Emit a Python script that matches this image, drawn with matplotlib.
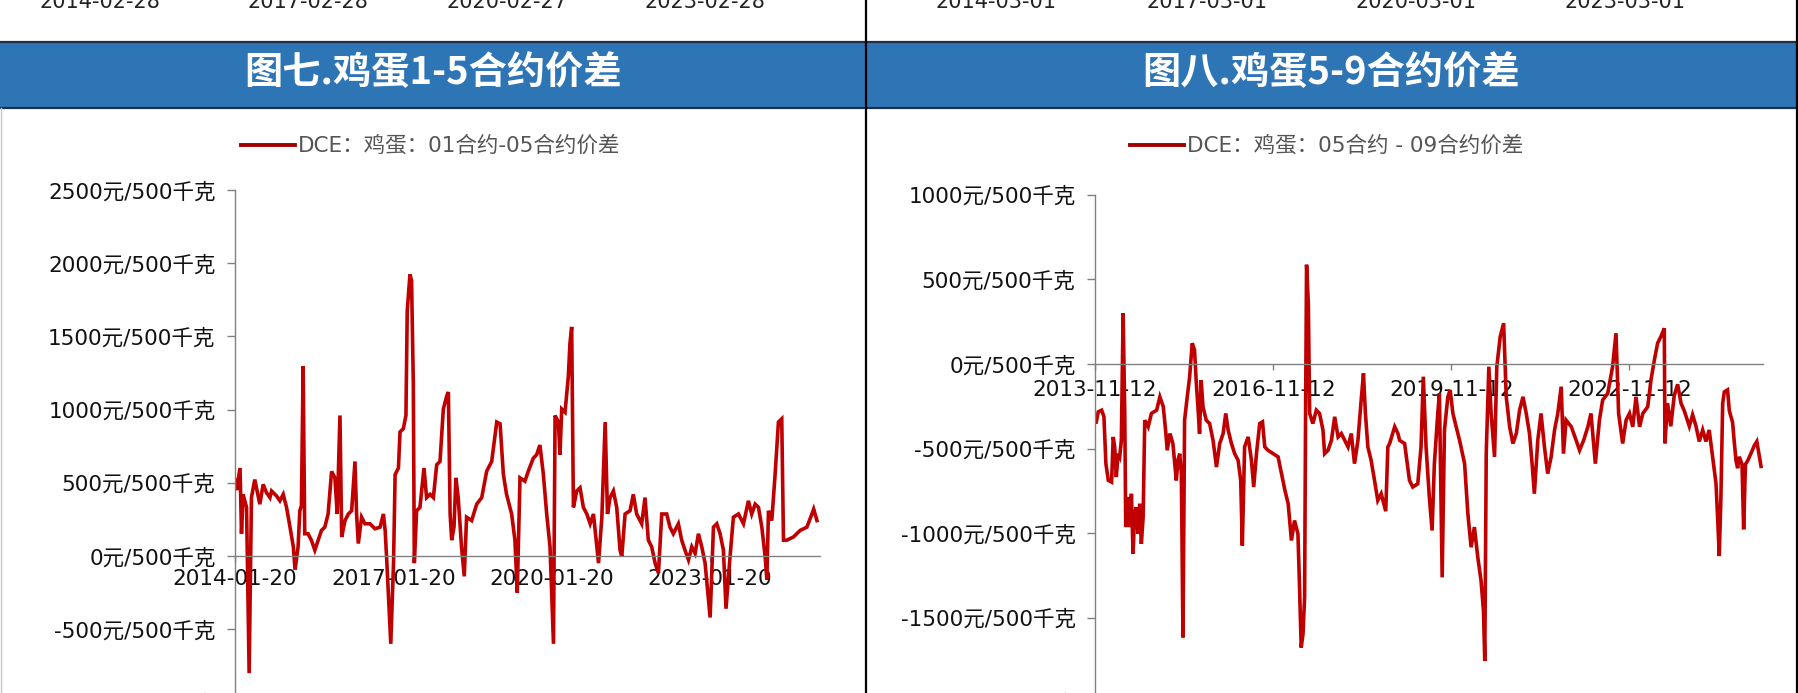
import matplotlib
matplotlib.use('Agg')
import matplotlib.pyplot as plt
import pandas as pd
from matplotlib.patches import Rectangle

# ---------------- data ----------------
spread15_dates = [
    '2014-01-20','2014-01-31','2014-02-24','2014-03-06','2014-03-17','2014-04-10','2014-04-28','2014-05-14',
    '2014-06-06','2014-07-11','2014-08-03','2014-08-26','2014-09-19','2014-09-30','2014-11-04','2014-11-27',
    '2014-12-20','2015-01-12','2015-02-05','2015-02-28','2015-03-12','2015-04-02','2015-04-14','2015-04-25',
    '2015-05-07','2015-05-18','2015-06-10','2015-07-03','2015-07-27','2015-08-19','2015-09-11','2015-10-04',
    '2015-10-27','2015-11-20','2015-12-13','2015-12-29','2016-01-17','2016-01-29','2016-02-21','2016-03-15',
    '2016-04-07','2016-04-30','2016-05-11','2016-05-23','2016-06-15','2016-07-08','2016-08-12','2016-09-16',
    '2016-10-21','2016-11-13','2016-11-25','2016-12-06','2017-01-03','2017-01-22','2017-02-02','2017-02-25',
    '2017-03-08','2017-03-31','2017-04-18','2017-04-27','2017-05-16','2017-05-27','2017-06-08','2017-06-15',
    '2017-07-01','2017-07-24','2017-08-21','2017-09-08','2017-10-02','2017-10-25','2017-11-17','2017-12-10',
    '2018-01-02','2018-01-26','2018-02-06','2018-02-18','2018-03-01','2018-03-17','2018-03-30','2018-04-15',
    '2018-05-08','2018-05-27','2018-06-12','2018-07-17','2018-08-21','2018-09-25','2018-10-29','2018-12-03',
    '2019-01-07','2019-01-30','2019-02-22','2019-03-16','2019-04-20','2019-05-13','2019-05-29','2019-06-17',
    '2019-07-21','2019-08-13','2019-09-17','2019-10-10','2019-11-02','2019-11-26','2019-12-19','2020-01-11',
    '2020-02-04','2020-02-15','2020-03-09','2020-03-20','2020-04-01','2020-04-24','2020-05-17','2020-05-28',
    '2020-06-09','2020-06-21','2020-07-14','2020-08-06','2020-08-29','2020-09-22','2020-10-15','2020-11-07',
    '2020-11-30','2020-12-12','2021-01-04','2021-01-27','2021-02-12','2021-03-02','2021-03-25','2021-04-17',
    '2021-05-10','2021-05-22','2021-06-14','2021-07-18','2021-08-10','2021-09-02','2021-10-07','2021-10-30',
    '2021-11-22','2021-12-15','2022-01-08','2022-01-31','2022-02-23','2022-03-29','2022-04-21','2022-05-14',
    '2022-06-18','2022-07-11','2022-08-03','2022-08-27','2022-09-19','2022-10-12','2022-11-04','2022-11-27',
    '2022-12-20','2023-01-24','2023-02-16','2023-03-11','2023-04-03','2023-04-26','2023-05-14','2023-06-11',
    '2023-07-04','2023-08-08','2023-09-12','2023-10-16','2023-11-08','2023-12-02','2023-12-25','2024-01-17',
    '2024-02-09','2024-02-21','2024-03-03','2024-03-26','2024-04-18','2024-05-11','2024-06-03','2024-06-15',
    '2024-07-08','2024-08-23','2024-10-09','2024-11-24','2024-12-29','2025-01-10','2025-02-02']
spread15_values = [
    520, 450, 601, 152, 421, 332, -800, 399,
    522, 354, 489, 433, 399, 444, 410, 377,
    421, 332, 197, 63, -94, 63, 309, 343,
    1296, 152, 152, 108, 40, 108, 175, 197,
    287, 578, 534, 287, 960, 130, 242, 287,
    309, 646, 287, 85, 265, 220, 220, 186,
    197, 287, 175, -27, -600, -49, 556, 601,
    847, 870, 960, 1677, 1924, 1879, 1184, -49,
    309, 332, 601, 399, 421, 399, 623, 646,
    1004, 1094, 1120, 287, 108, 197, 534, 399,
    63, -139, 265, 242, 354, 399, 578, 646,
    915, 903, 556, 421, 287, 108, -250, 534,
    511, 578, 668, 691, 758, 556, 287, 63,
    -600, 960, 915, 691, 1004, 982, 1229, 1453,
    1565, 332, 444, 466, 332, 287, 220, 287,
    63, -49, 265, 915, 287, 399, 444, 332,
    40, -4, 287, 309, 421, 287, 220, 399,
    108, 63, -49, -117, 287, 287, 197, 152,
    220, 108, 40, -27, 63, 18, 152, 63,
    -49, -420, 197, 220, 152, 40, -360, -4,
    265, 287, 220, 377, 287, 354, 332, 197,
    -4, -161, 309, 242, 556, 915, 937, 108,
    108, 130, 175, 197, 287, 320, 242]

spread59_dates = [
    '2013-11-12','2013-11-18','2013-12-02','2013-12-23','2014-01-06','2014-01-18','2014-02-02','2014-02-22',
    '2014-03-04','2014-03-13','2014-03-23','2014-04-03','2014-04-13','2014-04-23','2014-05-04','2014-05-14',
    '2014-05-20','2014-06-03','2014-06-14','2014-06-24','2014-07-04','2014-07-14','2014-07-24','2014-08-04',
    '2014-08-14','2014-08-24','2014-09-04','2014-09-14','2014-10-05','2014-10-25','2014-11-26','2014-12-16',
    '2015-01-06','2015-01-22','2015-01-30','2015-02-16','2015-03-06','2015-03-27','2015-04-06','2015-04-17',
    '2015-04-27','2015-05-07','2015-05-17','2015-05-31','2015-06-17','2015-07-03','2015-07-17','2015-07-27',
    '2015-08-07','2015-08-17','2015-08-27','2015-09-07','2015-09-27','2015-10-18','2015-11-08','2015-11-29',
    '2015-12-19','2016-01-09','2016-01-25','2016-02-09','2016-02-29','2016-03-20','2016-04-10','2016-04-26',
    '2016-05-06','2016-05-20','2016-06-11','2016-07-01','2016-07-15','2016-08-01','2016-08-21','2016-09-07',
    '2016-09-21','2016-10-11','2016-11-12','2016-12-12','2017-01-02','2017-01-23','2017-02-12','2017-03-04',
    '2017-03-23','2017-04-13','2017-04-23','2017-05-03','2017-05-14','2017-05-24','2017-05-30','2017-06-05',
    '2017-06-16','2017-06-24','2017-07-14','2017-08-04','2017-08-24','2017-09-14','2017-09-24','2017-10-15',
    '2017-11-05','2017-11-25','2017-12-16','2018-01-05','2018-01-26','2018-02-15','2018-03-07','2018-03-27',
    '2018-04-17','2018-05-07','2018-05-21','2018-06-02','2018-06-17','2018-07-07','2018-07-28','2018-08-17',
    '2018-09-07','2018-09-28','2018-10-05','2018-10-18','2018-10-29','2018-11-29','2018-12-19','2018-12-29',
    '2019-01-29','2019-02-28','2019-03-20','2019-04-20','2019-05-10','2019-05-24','2019-06-10','2019-06-30',
    '2019-07-17','2019-07-31','2019-08-21','2019-08-31','2019-09-17','2019-10-01','2019-10-22','2019-11-05',
    '2019-11-22','2019-12-12','2020-01-02','2020-02-02','2020-02-22','2020-03-13','2020-04-02','2020-04-23',
    '2020-05-13','2020-05-28','2020-06-05','2020-06-14','2020-06-30','2020-07-14','2020-08-04','2020-08-18',
    '2020-09-08','2020-09-29','2020-10-15','2020-11-05','2020-11-25','2020-12-16','2021-01-05','2021-01-26',
    '2021-02-15','2021-03-07','2021-03-23','2021-04-06','2021-04-27','2021-05-17','2021-06-07','2021-06-27',
    '2021-07-18','2021-08-08','2021-08-28','2021-09-18','2021-10-02','2021-10-18','2021-11-19','2021-12-19',
    '2022-01-09','2022-02-03','2022-03-01','2022-03-20','2022-04-16','2022-05-11','2022-05-31','2022-07-01',
    '2022-07-31','2022-08-21','2022-09-06','2022-10-01','2022-10-22','2022-11-12','2022-12-02','2022-12-22',
    '2023-01-13','2023-02-02','2023-03-04','2023-03-24','2023-04-14','2023-05-04','2023-05-24','2023-06-14',
    '2023-06-18','2023-07-04','2023-07-24','2023-08-14','2023-09-04','2023-09-25','2023-10-15','2023-11-15',
    '2023-12-05','2023-12-26','2024-01-15','2024-02-05','2024-02-25','2024-03-16','2024-04-06','2024-04-27',
    '2024-05-07','2024-05-17','2024-05-27','2024-06-07','2024-06-17','2024-07-07','2024-07-18','2024-08-07',
    '2024-08-17','2024-08-28','2024-09-07','2024-09-17','2024-10-04','2024-10-14','2024-10-25','2024-11-08',
    '2024-11-29','2024-12-19','2025-01-03','2025-01-15','2025-01-29']
spread59_values = [
    -330, -352, -283, -273, -312, -589, -688, -698,
    -431, -490, -668, -530, -549, -451, 300, -292,
    -964, -786, -964, -767, -1122, -885, -846, -1004,
    -826, -1063, -905, -332, -371, -292, -273, -194,
    -253, -411, -510, -411, -470, -688, -569, -530,
    -648, -1616, -332, -213, -75, 123, 83, -95,
    -253, -411, -95, -253, -332, -352, -451, -609,
    -470, -411, -292, -391, -470, -530, -569, -688,
    -1073, -490, -431, -569, -727, -530, -352, -342,
    -490, -510, -530, -549, -648, -747, -826, -1043,
    -925, -1004, -1320, -1676, -1597, -1379, -292, 587,
    360, -292, -352, -273, -292, -391, -530, -510,
    -451, -312, -431, -411, -451, -490, -411, -589,
    -451, -213, -55, -292, -490, -569, -688, -806,
    -767, -846, -870, -490, -470, -371, -411, -451,
    -470, -688, -727, -708, -490, -75, -490, -786,
    -984, -589, -292, -174, -1261, -391, -194, -154,
    -292, -371, -451, -589, -885, -1083, -964, -1142,
    -1280, -1458, -1755, -530, -16, -292, -549, -16,
    162, 241, -194, -371, -470, -411, -273, -194,
    -292, -411, -589, -767, -451, -292, -490, -648,
    -549, -391, -292, -134, -530, -332, -371, -451,
    -510, -451, -371, -292, -589, -332, -213, -174,
    -16, 182, -292, -470, -332, -292, -371, -194,
    -371, -292, -253, -95, 24, 123, 162, 211,
    -469, -232, -368, -187, -120, -232, -277, -368,
    -300, -368, -458, -390, -458, -390, -548, -706,
    -909, -1135, -797, -232, -165, -153, -277, -345,
    -458, -571, -616, -548, -593, -977, -593, -571,
    -526, -481, -458, -526, -605]

left_xticks = ['2014-01-20', '2017-01-20', '2020-01-20', '2023-01-20']
right_xticks = ['2013-11-12', '2016-11-12', '2019-11-12', '2022-11-12']
left_yticks = [-1000, -500, 0, 500, 1000, 1500, 2000, 2500]
right_yticks = [-2000, -1500, -1000, -500, 0, 500, 1000]
unit = '元/500千克'
top_left_labels = ['2014-02-28', '2017-02-28', '2020-02-27', '2023-02-28']
top_right_labels = ['2014-03-01', '2017-03-01', '2020-03-01', '2023-03-01']
titles = ['图七.鸡蛋1-5合约价差', '图八.鸡蛋5-9合约价差']
legend_labels = ['DCE：鸡蛋：01合约-05合约价差', 'DCE：鸡蛋：05合约 - 09合约价差']

# ---------------- layout ----------------
W, H = 1799, 693
CJK = ['Noto Sans CJK SC', 'DejaVu Sans']
MIXED = ['DejaVu Sans', 'Noto Sans CJK SC']
RED = '#C00000'
GRAY = '#808080'
BLUE = '#2E75B6'

fig = plt.figure(figsize=(W / 100, H / 100), dpi=100)
fig.patch.set_facecolor('white')

bg = fig.add_axes([0, 0, 1, 1])
bg.set_xlim(0, W)
bg.set_ylim(H, 0)
bg.axis('off')
bg.set_zorder(0)

# header bands
for x0, x1, t in [(0, 866, titles[0]), (866, 1797, titles[1])]:
    bg.add_patch(Rectangle((x0, 42), x1 - x0, 66, facecolor=BLUE, edgecolor='none'))
    bg.plot([x0, x1], [42, 42], color='#1F2F4A', lw=1.6, solid_capstyle='butt')
    bg.plot([x0, x1], [108, 108], color='#1F2F4A', lw=1.6, solid_capstyle='butt')
    bg.text((x0 + x1) / 2, 73, t, color='white', fontsize=27.5, fontweight='bold',
            family=CJK, ha='center', va='center')

# borders
bg.plot([866, 866], [0, H], color='black', lw=1.6)
bg.plot([1797, 1797], [0, H], color='black', lw=1.6)
bg.plot([1, 1], [108, H], color='#C8C8C8', lw=1)

# cut-off labels of the charts above (only their lower part is in view)
for xs, labs in [([100, 308, 507, 705], top_left_labels), ([996, 1207, 1416, 1625], top_right_labels)]:
    for x, lab in zip(xs, labs):
        bg.text(x, 8, lab, fontsize=15, color='#222222', ha='center', va='baseline',
                family='DejaVu Sans')

def make_axes(left_px, right_px, top_px, bottom_px):
    ax = fig.add_axes([left_px / W, 1 - bottom_px / H, (right_px - left_px) / W,
                       (bottom_px - top_px) / H])
    ax.set_zorder(1)
    ax.patch.set_alpha(0)
    return ax

panels = [
    dict(dates=spread15_dates, vals=spread15_values, xt=left_xticks, yt=left_yticks,
         box=(235, 820, 190, 702.4), xlim=('2014-01-20', '2025-02-23'), leg=legend_labels[0],
         leg_xy=(241, 146), xpad=5.5),
    dict(dates=spread59_dates, vals=spread59_values, xt=right_xticks, yt=right_yticks,
         box=(1095, 1763, 194.8, 702.4), xlim=('2013-11-12', '2025-02-10'), leg=legend_labels[1],
         leg_xy=(1130, 146), xpad=7.5),
]

for p in panels:
    ax = make_axes(*p['box'])
    d = pd.to_datetime(p['dates'])
    ax.plot(d, p['vals'], color=RED, lw=2.6, label=p['leg'], solid_joinstyle='miter')
    ax.set_xlim(pd.Timestamp(p['xlim'][0]), pd.Timestamp(p['xlim'][1]))
    ax.set_ylim(min(p['yt']), max(p['yt']))
    for s in ['top', 'right']:
        ax.spines[s].set_visible(False)
    ax.spines['left'].set_color(GRAY)
    ax.spines['left'].set_linewidth(1.0)
    ax.spines['bottom'].set_position(('data', 0))
    ax.spines['bottom'].set_color(GRAY)
    ax.spines['bottom'].set_linewidth(1.0)
    ax.set_yticks(p['yt'])
    ax.set_yticklabels([f'{v}{unit}' for v in p['yt']], family=MIXED, fontsize=15.5, color='#111111')
    ax.tick_params(axis='y', direction='out', length=6, width=1, color=GRAY, pad=8)
    ax.set_xticks(pd.to_datetime(p['xt']))
    ax.set_xticklabels(p['xt'], family='DejaVu Sans', fontsize=15.5, color='#111111')
    ax.tick_params(axis='x', direction='out', length=4, width=1, color=GRAY, pad=p['xpad'])
    leg = ax.legend(loc='center left', bbox_to_anchor=(p['leg_xy'][0] / W, 1 - p['leg_xy'][1] / H),
                    bbox_transform=fig.transFigure, frameon=False, handlelength=2.5,
                    handletextpad=0.15, borderpad=0, borderaxespad=0,
                    prop={'family': MIXED, 'size': 15.5})
    for t in leg.get_texts():
        t.set_color('#555555')
    for l in leg.get_lines():
        l.set_linewidth(2.8)
        l.set_color('#A00000')

fig.savefig('out.png', dpi=100, facecolor='white')
